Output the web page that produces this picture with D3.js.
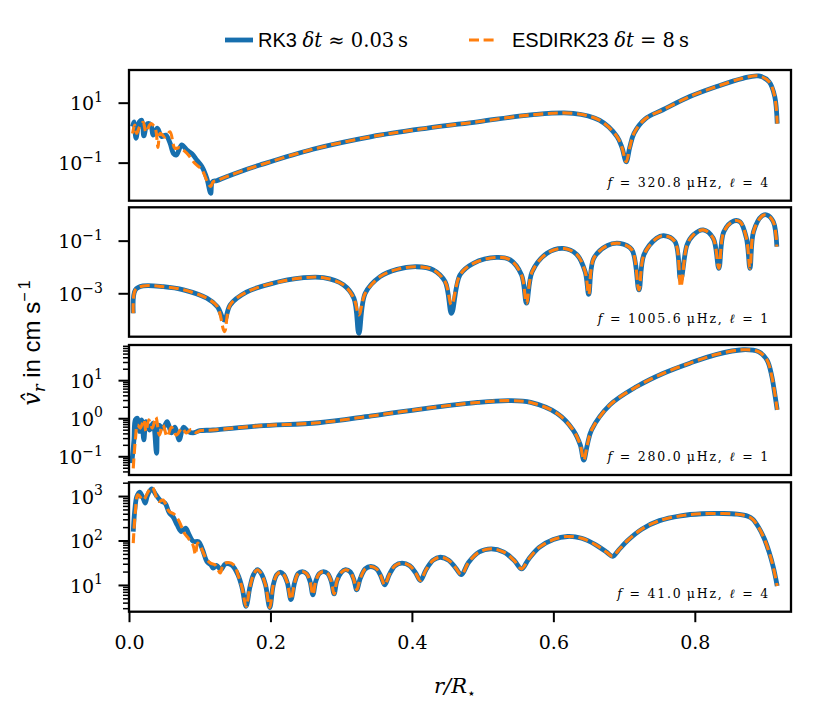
<!DOCTYPE html>
<html>
<head>
<meta charset="utf-8">
<script src="https://cdn.jsdelivr.net/npm/d3@7"></script>
<style>
  body { margin: 0; background: #fff; }
  .serif { font-family: "DejaVu Serif", serif; }
  .sans { font-family: "Liberation Sans", "DejaVu Sans", sans-serif; }
</style>
</head>
<body>
<svg id="chart" width="831" height="711"></svg>
<script>
const rkColor = "#176fae";
const esColor = "#ff7f0e";

// ---- data: [r / R_star, |v_r| in cm/s] ----

// panel 1: f = 320.8 uHz, l = 4
const p1Rk3Head = [[0.005, 1.6], [0.007, 2.3], [0.0099, 0.65], [0.0146, 2.3], [0.018, 2.6], [0.021, 0.78],
  [0.026, 2.0], [0.031, 1.8], [0.034, 0.83], [0.040, 1.4], [0.046, 0.74], [0.052, 0.83], [0.058, 0.45],
  [0.063, 0.20], [0.067, 0.18], [0.0745, 0.39], [0.082, 0.26], [0.089, 0.20], [0.096, 0.12], [0.103, 0.074],
  [0.110, 0.030], [0.1155, 0.0095], [0.118, 0.023], [0.124, 0.025]];
const p1EsdirkHead = [[0.005, 0.93], [0.008, 1.8], [0.011, 0.95], [0.015, 1.6], [0.020, 2.2], [0.024, 1.07],
  [0.031, 2.0], [0.037, 1.4], [0.041, 0.32], [0.044, 0.95], [0.051, 0.71], [0.058, 1.07], [0.065, 0.30],
  [0.072, 0.32], [0.077, 0.26], [0.084, 0.18], [0.093, 0.095], [0.103, 0.058], [0.112, 0.020],
  [0.1155, 0.016], [0.119, 0.023], [0.124, 0.025]];
const p1Tail = [[0.138, 0.034], [0.157, 0.050], [0.185, 0.083], [0.26, 0.28], [0.343, 0.74], [0.42, 1.4],
  [0.493, 2.3], [0.568, 3.9], [0.628, 4.4], [0.665, 2.6], [0.69, 0.74], [0.697, 0.32], [0.703, 0.107],
  [0.708, 0.32], [0.714, 0.95], [0.73, 2.9], [0.755, 5.8], [0.793, 16], [0.83, 34], [0.868, 65], [0.89, 78],
  [0.905, 50], [0.913, 16], [0.9165, 2.0]];

// panel 2: f = 1005.6 uHz, l = 1  -> [r, RK3, ESDIRK23]
const p2Profile = [[0.006, 1.74e-4, 1.74e-4], [0.009, 1.35e-3, 1.35e-3], [0.020, 1.9e-3, 1.9e-3],
  [0.0486, 1.78e-3, 1.78e-3], [0.077, 1.35e-3, 1.35e-3], [0.110, 6.5e-4, 6.5e-4], [0.125, 3.1e-4, 3.1e-4],
  [0.135, 9.5e-5, 3.5e-5], [0.143, 3.6e-4, 3.6e-4], [0.166, 1.1e-3, 1.1e-3], [0.199, 2.24e-3, 2.24e-3],
  [0.247, 3.9e-3, 3.9e-3], [0.275, 3.9e-3, 3.9e-3], [0.303, 2.1e-3, 2.1e-3], [0.318, 6.5e-4, 6.5e-4],
  [0.325, 3.0e-5, 1.5e-4], [0.334, 1.0e-3, 1.0e-3], [0.355, 4.3e-3, 4.3e-3], [0.379, 8.1e-3, 8.1e-3],
  [0.407, 1.02e-2, 1.02e-2], [0.430, 7.8e-3, 7.8e-3], [0.447, 2.75e-3, 2.75e-3], [0.456, 1.74e-4, 3.6e-4],
  [0.468, 5.0e-3, 5.0e-3], [0.487, 1.38e-2, 1.38e-2], [0.520, 2.3e-2, 2.3e-2], [0.539, 1.86e-2, 1.86e-2],
  [0.555, 5.0e-3, 5.0e-3], [0.562, 4.2e-4, 4.2e-4], [0.570, 6.6e-3, 6.6e-3], [0.591, 3.3e-2, 3.3e-2],
  [0.614, 5.1e-2, 5.1e-2], [0.633, 3.0e-2, 3.0e-2], [0.645, 6.6e-3, 6.6e-3], [0.650, 9.1e-4, 9.1e-4],
  [0.657, 2.1e-2, 2.1e-2], [0.676, 6.5e-2, 6.5e-2], [0.694, 7.9e-2, 7.9e-2], [0.711, 4.5e-2, 4.5e-2],
  [0.721, 1.35e-3, 1.35e-3], [0.728, 2.9e-2, 2.9e-2], [0.746, 0.123, 0.123], [0.756, 0.155, 0.155],
  [0.772, 0.091, 0.091], [0.780, 3.2e-3, 1.78e-3], [0.789, 0.069, 0.069], [0.798, 0.166, 0.166],
  [0.812, 0.257, 0.257], [0.826, 0.123, 0.123], [0.834, 8.9e-3, 8.9e-3], [0.841, 0.219, 0.219],
  [0.855, 0.56, 0.56], [0.864, 0.52, 0.52], [0.873, 0.123, 0.123], [0.878, 8.9e-3, 8.9e-3],
  [0.883, 0.219, 0.219], [0.895, 0.87, 0.87], [0.902, 0.95, 0.95], [0.911, 0.52, 0.52], [0.916, 0.059, 0.059]];

// panel 3: f = 280.0 uHz, l = 1
const p3Rk3Head = [[0.004, 0.066], [0.007, 0.27], [0.009, 0.91], [0.012, 1.0], [0.015, 0.45], [0.018, 0.91],
  [0.021, 0.27], [0.024, 0.81], [0.029, 0.49], [0.034, 0.74], [0.039, 0.12], [0.042, 0.66], [0.048, 0.55],
  [0.054, 0.81], [0.060, 0.41], [0.065, 0.58], [0.071, 0.27], [0.077, 0.58], [0.0835, 0.45], [0.0905, 0.41],
  [0.100, 0.47]];
const p3EsdirkHead = [[0.006, 0.048], [0.009, 0.27], [0.012, 0.66], [0.016, 0.55], [0.021, 0.91], [0.024, 0.45],
  [0.028, 0.91], [0.033, 0.55], [0.038, 1.07], [0.043, 0.36], [0.048, 0.66], [0.054, 0.33], [0.060, 0.58],
  [0.067, 0.36], [0.075, 0.55], [0.081, 0.41], [0.088, 0.51], [0.095, 0.42], [0.100, 0.47]];
const p3Tail = [[0.119, 0.49], [0.184, 0.63], [0.268, 0.76], [0.343, 1.15], [0.418, 1.8], [0.493, 2.6],
  [0.538, 2.9], [0.568, 2.6], [0.605, 1.35], [0.628, 0.49], [0.638, 0.20], [0.643, 0.079], [0.648, 0.20],
  [0.654, 0.49], [0.68, 2.24], [0.718, 6.8], [0.755, 15], [0.793, 28], [0.83, 47], [0.868, 63], [0.89, 56],
  [0.902, 34], [0.909, 12.3], [0.9165, 1.66]];

// panel 4: f = 41.0 uHz, l = 4
const p4Rk3Head = [[0.006, 158], [0.008, 447], [0.011, 977], [0.015, 1230], [0.019, 977], [0.023, 692],
  [0.026, 1020], [0.032, 1445], [0.038, 1070], [0.045, 776], [0.051, 692], [0.057, 417], [0.062, 347],
  [0.068, 224], [0.074, 158], [0.080, 190], [0.085, 135], [0.091, 95], [0.098, 95], [0.104, 62], [0.110, 34],
  [0.116, 28], [0.119, 24], [0.124, 27.5], [0.130, 22], [0.136, 29.5], [0.145, 28]];
const p4EsdirkHead = [[0.006, 87], [0.009, 447], [0.0127, 1070], [0.020, 813], [0.028, 1318], [0.033, 1550],
  [0.042, 759], [0.048, 813], [0.057, 447], [0.064, 389], [0.071, 269], [0.078, 148], [0.084, 112],
  [0.0905, 79], [0.094, 48], [0.097, 87], [0.101, 74], [0.108, 42], [0.115, 31], [0.122, 28], [0.129, 18.6],
  [0.133, 28], [0.140, 32], [0.149, 27.5]];
const p4Tail = [[0.154, 17], [0.160, 8.5], [0.1655, 3.3], [0.171, 9], [0.176, 17], [0.1815, 22], [0.187, 18],
  [0.193, 10], [0.199, 3.1], [0.204, 10], [0.209, 17], [0.214, 19.5], [0.219, 17], [0.224, 11], [0.229, 4.7],
  [0.234, 11], [0.239, 18], [0.245, 20], [0.251, 18], [0.256, 12], [0.260, 6], [0.264, 12], [0.269, 18],
  [0.275, 20], [0.281, 18], [0.286, 12], [0.290, 6.3], [0.294, 12.5], [0.300, 19], [0.306, 22], [0.313, 19.5],
  [0.318, 13], [0.322, 7.8], [0.327, 14], [0.334, 23], [0.342, 26], [0.350, 23], [0.356, 16], [0.3615, 10],
  [0.368, 17], [0.376, 27], [0.386, 31], [0.397, 27], [0.405, 19], [0.412, 12.6], [0.420, 22], [0.430, 36],
  [0.440, 42], [0.452, 36], [0.462, 24], [0.470, 17], [0.480, 32], [0.495, 55], [0.512, 65], [0.530, 55],
  [0.545, 35], [0.555, 23], [0.565, 38], [0.580, 70], [0.600, 105], [0.620, 123], [0.640, 112], [0.660, 80],
  [0.675, 55], [0.684, 44], [0.692, 60], [0.705, 100], [0.725, 180], [0.750, 280], [0.780, 360], [0.810, 400],
  [0.840, 405], [0.860, 390], [0.875, 350], [0.882, 300], [0.890, 200], [0.898, 112], [0.905, 55], [0.911, 25],
  [0.9165, 9.5]];

const xTicks = [0, 0.2, 0.4, 0.6, 0.8];
const legendItems = ["RK3", "ESDIRK23"];
const legendSteps = ["\u2248 0.03", "= 8"];

const panels = [
  { rk: p1Rk3Head.concat(p1Tail), es: p1EsdirkHead.concat(p1Tail),
    yDomain: [5.37e-3, 123], major: [1e-1, 1e1], minor: false, f: "320.8", l: "4" },
  { rk: p2Profile.map(d => [d[0], d[1]]), es: p2Profile.map(d => [d[0], d[2]]),
    yDomain: [2.24e-5, 1.85], major: [1e-3, 1e-1], minor: false, f: "1005.6", l: "1" },
  { rk: p3Rk3Head.concat(p3Tail), es: p3EsdirkHead.concat(p3Tail),
    yDomain: [0.0322, 84], major: [1e-1, 1, 1e1], minor: true, f: "280.0", l: "1" },
  { rk: p4Rk3Head.concat(p4Tail), es: p4EsdirkHead.concat(p4Tail),
    yDomain: [2.5, 2040], major: [1e1, 1e2, 1e3], minor: true, f: "41.0", l: "4" }
];

// ---- layout ----
const left = 129, right = 791;
const boxes = [[70, 200.7], [207.3, 336.7], [345, 475], [482.3, 611.7]];

const svg = d3.select("#chart");
const x = d3.scaleLinear().domain([0, 0.936]).range([left, right]);

panels.forEach((p, i) => {
  const [top, bottom] = boxes[i];
  const y = d3.scaleLog().domain(p.yDomain).range([bottom, top]);
  const g = svg.append("g");

  g.append("clipPath").attr("id", "clip" + i)
    .append("rect")
    .attr("x", left).attr("y", top)
    .attr("width", right - left).attr("height", bottom - top);

  const line = d3.line()
    .x(d => x(d[0]))
    .y(d => y(d[1]))
    .curve(d3.curveCatmullRom.alpha(0.5));

  g.append("path").datum(p.rk)
    .attr("d", line)
    .attr("fill", "none")
    .attr("stroke", rkColor)
    .attr("stroke-width", 4.8)
    .attr("stroke-linejoin", "round")
    .attr("clip-path", `url(#clip${i})`);

  g.append("path").datum(p.es)
    .attr("d", line)
    .attr("fill", "none")
    .attr("stroke", esColor)
    .attr("stroke-width", 3.1)
    .attr("stroke-dasharray", "10,4.6")
    .attr("clip-path", `url(#clip${i})`);

  // minor ticks (panels 3 and 4 only)
  if (p.minor) {
    const minorVals = y.ticks().filter(v => !p.major.some(m => Math.abs(m - v) / m < 1e-6));
    const minorAxis = g.append("g")
      .attr("transform", `translate(${left},0)`)
      .call(d3.axisLeft(y).tickValues(minorVals).tickSize(6).tickFormat(""));
    minorAxis.select(".domain").remove();
    minorAxis.selectAll(".tick line").attr("stroke", "#000").attr("stroke-width", 1.5);
  }

  // major ticks, labels written as 10^n
  const yAxis = g.append("g")
    .attr("transform", `translate(${left},0)`)
    .call(d3.axisLeft(y).tickValues(p.major).tickSize(10.5).tickPadding(15.5).tickFormat(() => "10"));
  yAxis.select(".domain").remove();
  yAxis.selectAll(".tick line").attr("stroke", "#000").attr("stroke-width", 2);
  yAxis.selectAll(".tick text")
    .attr("font-family", "DejaVu Serif")
    .attr("font-size", 19)
    .attr("fill", "#000")
    .attr("dy", "0.38em")
    .append("tspan")
    .attr("dy", -8.5)
    .attr("font-size", 14)
    .text(d => {
      const e = Math.round(Math.log10(d));
      return e < 0 ? "\u2212" + (-e) : String(e);
    });

  // frame
  g.append("rect")
    .attr("x", left).attr("y", top)
    .attr("width", right - left).attr("height", bottom - top)
    .attr("fill", "none")
    .attr("stroke", "#000")
    .attr("stroke-width", 2.3);

  // mode annotation
  const note = g.append("text")
    .attr("class", "serif")
    .attr("x", 770).attr("y", bottom - 13.7)
    .attr("text-anchor", "end")
    .attr("font-size", 12.5)
    .attr("letter-spacing", 1.8);
  note.append("tspan").attr("font-style", "italic").text("f");
  note.append("tspan").text(` = ${p.f}\u2009\u03bcHz, `);
  note.append("tspan").attr("font-style", "italic").text("\u2113");
  note.append("tspan").text(` = ${p.l}`);

  if (i === panels.length - 1) {
    const xAxis = g.append("g")
      .attr("transform", `translate(0,${bottom})`)
      .call(d3.axisBottom(x).tickValues(xTicks).tickSize(10.5).tickPadding(13.5).tickFormat(d3.format(".1f")));
    xAxis.select(".domain").remove();
    xAxis.selectAll(".tick line").attr("stroke", "#000").attr("stroke-width", 2);
    xAxis.selectAll(".tick text")
      .attr("font-family", "DejaVu Serif")
      .attr("font-size", 19)
      .attr("fill", "#000");
  }
});

// x label
const xLabel = svg.append("text")
  .attr("class", "serif")
  .attr("x", 455).attr("y", 693)
  .attr("text-anchor", "middle")
  .attr("font-size", 21);
xLabel.append("tspan").attr("font-style", "italic").text("r/R");
xLabel.append("tspan").attr("dy", 5).attr("font-size", 14).text("\u22c6");

// y label
const yLabel = svg.append("text")
  .attr("transform", "translate(40,343) rotate(-90)")
  .attr("text-anchor", "middle")
  .attr("font-size", 24);
yLabel.append("tspan").attr("class", "serif").attr("font-style", "italic").text("v\u0302");
yLabel.append("tspan").attr("class", "serif").attr("font-style", "italic").attr("font-size", 16).attr("dy", 5).text("r");
yLabel.append("tspan").attr("class", "sans").attr("dy", -5).text(" in cm s");
yLabel.append("tspan").attr("class", "sans").attr("font-size", 16).attr("dy", -10).text("\u2212\u20091");

// legend
const legendX = [[225, 253, 258], [469, 497, 512]];
legendItems.forEach((name, k) => {
  const [x0, x1, tx] = legendX[k];
  svg.append("line")
    .attr("x1", x0).attr("x2", x1).attr("y1", 40).attr("y2", 40)
    .attr("stroke", k === 0 ? rkColor : esColor)
    .attr("stroke-width", k === 0 ? 4.8 : 3.1)
    .attr("stroke-dasharray", k === 0 ? null : "10,4.6");
  const t = svg.append("text").attr("x", tx).attr("y", 47).attr("font-size", 19.5);
  t.append("tspan").attr("class", "sans").attr("font-size", 20).text(name + " ");
  t.append("tspan").attr("class", "serif").attr("font-style", "italic").text("\u03b4t");
  t.append("tspan").attr("class", "serif").text(` ${legendSteps[k]}\u2009s`);
});
</script>
</body>
</html>
